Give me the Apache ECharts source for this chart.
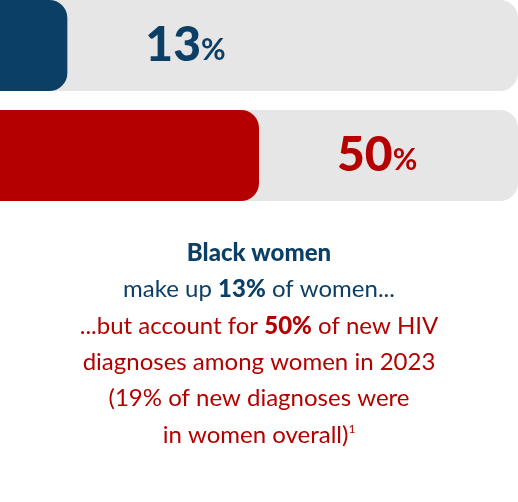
<!DOCTYPE html>
<html lang="en">
<head>
    <meta charset="UTF-8">
    <title>HIV chart</title>
    <style>
        html, body { margin: 0; padding: 0; background: #fff; }
        #chart { width: 518px; height: 502px; }
    </style>
</head>
<body>
    <div id="chart"></div>
</body>
<script src="https://cdn.jsdelivr.net/npm/echarts@6/dist/echarts.min.js"></script>
<script type="text/javascript">
    var categories = ['Share of women', 'Share of new HIV diagnoses among women'];
    var values = [13, 50];
    var colors = ['#0b3f66', '#b50000'];
    // caption lines: [text runs], each run [text, bold, colour index]
    var caption = [
        [['Black women', 1, 0]],
        [['make up ', 0, 0], ['13%', 1, 0], [' of women...', 0, 0]],
        [['...but account for ', 0, 1], ['50%', 1, 1], [' of new HIV', 0, 1]],
        [['diagnoses among women in 2023', 0, 1]],
        [['(19% of new diagnoses were', 0, 1]],
        [['in women overall)', 0, 1], ['1', 2, 1]]
    ];

    var myChart = echarts.init(document.getElementById('chart'));
    var font = 'Lato, "Open Sans", sans-serif';

    var rich = {};
    colors.forEach(function (c, i) {
        rich['n' + i] = { fontFamily: font, fontSize: 24, fill: c, color: c };
        rich['b' + i] = { fontFamily: font, fontWeight: 900, fontSize: 24, fill: c, color: c };
        rich['s' + i] = { fontFamily: font, fontSize: 12, fill: c, color: c, padding: [0, 0, 12, 0] };
    });
    var graphics = caption.map(function (line, k) {
        var txt = line.map(function (r) {
            var key = (r[1] === 2 ? 's' : r[1] ? 'b' : 'n') + r[2];
            return '{' + key + '|' + r[0] + '}';
        }).join('');
        return {
            type: 'text',
            x: 259,
            y: 253 + k * 36.4,
            style: { text: txt, align: 'center', verticalAlign: 'middle', rich: rich }
        };
    });

    myChart.setOption({
        animation: false,
        grid: { left: 0, right: 0, top: 45.5, height: 110 },
        xAxis: { type: 'value', min: 0, max: 100, show: false },
        yAxis: { type: 'category', data: categories, inverse: true, show: false, boundaryGap: false },
        series: [{
            type: 'bar',
            barWidth: 91,
            clip: false,
            showBackground: true,
            backgroundStyle: { color: '#e6e6e6', borderRadius: [0, 18, 18, 0] },
            data: values.map(function (v, i) {
                return {
                    value: v,
                    itemStyle: { color: colors[i], borderRadius: [0, 18, 18, 0] },
                    label: {
                        show: true,
                        position: 'right',
                        distance: 78,
                        formatter: '{n|' + v + '}{p|%}',
                        rich: {
                            n: { fontFamily: font, fontWeight: 900, fontSize: 48, color: colors[i] },
                            p: { fontFamily: font, fontWeight: 700, fontSize: 30, color: colors[i], padding: [10, 0, 0, 0] }
                        }
                    }
                };
            })
        }],
        graphic: graphics
    });
</script>
</html>
